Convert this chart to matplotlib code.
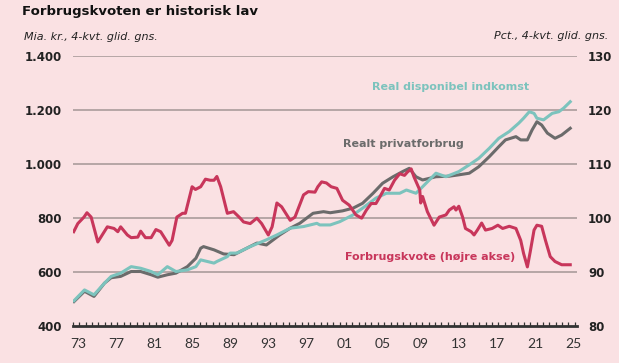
import matplotlib.pyplot as plt
import numpy as np

# Realt privatforbrug (mia. kr., venstre akse)
forbrug_aar = [1973.1, 1974.2, 1975.2, 1976.3, 1977.0, 1978.0, 1979.1, 1980.1, 1981.2, 1981.9,
               1982.9, 1983.8, 1985.0, 1985.9, 1986.4, 1986.7, 1987.8, 1988.8, 1989.9, 1990.9,
               1992.3, 1993.3, 1994.7, 1995.8, 1996.8, 1998.2, 1999.3, 2000.0, 2001.3, 2002.4,
               2003.4, 2004.5, 2005.5, 2006.6, 2007.6, 2008.3, 2009.0, 2009.7, 2011.1, 2012.5,
               2013.5, 2014.6, 2015.6, 2016.7, 2017.7, 2018.4, 2019.5, 2020.0, 2020.7, 2021.2,
               2021.7, 2022.2, 2022.8, 2023.6, 2024.3, 2025.2]
forbrug = [492, 530, 511, 560, 580, 585, 603, 603, 591, 582,
           591, 597, 621, 652, 689, 695, 683, 668, 665, 683,
           708, 701, 738, 763, 781, 818, 824, 820, 827, 837,
           855, 892, 929, 953, 972, 984, 953, 941, 953, 955,
           960, 966, 990, 1027, 1064, 1089, 1101, 1089, 1089, 1126,
           1156, 1144, 1114, 1095, 1107, 1132]

# Real disponibel indkomst (mia. kr., venstre akse)
indkomst_aar = [1973.1, 1974.2, 1975.2, 1976.3, 1977.0, 1978.0, 1979.1, 1980.1, 1981.2, 1981.9,
                1982.9, 1983.8, 1985.0, 1985.9, 1986.4, 1987.8, 1988.1, 1989.2, 1989.5, 1990.2,
                1991.6, 1993.3, 1994.4, 1995.8, 1997.2, 1998.6, 1998.9, 2000.0, 2001.0, 2002.4,
                2003.4, 2004.8, 2005.9, 2007.3, 2008.0, 2009.0, 2009.7, 2011.1, 2012.15, 2013.5,
                2014.6, 2015.6, 2016.7, 2017.7, 2018.8, 2019.8, 2020.3, 2020.9, 2021.4, 2021.7,
                2022.4, 2023.3, 2024.0, 2024.5, 2025.2]
indkomst = [495, 535, 517, 560, 585, 597, 621, 615, 603, 591,
            621, 603, 609, 621, 646, 634, 640, 658, 671, 671,
            695, 720, 738, 763, 769, 781, 775, 775, 787, 812,
            837, 874, 892, 892, 904, 892, 916, 966, 953, 972,
            997, 1021, 1058, 1095, 1120, 1151, 1169, 1193, 1187, 1169,
            1163, 1187, 1193, 1206, 1230]

# Forbrugskvote (pct., hoejre akse)
kvote_aar = [1973.07, 1973.5, 1974.15, 1974.46, 1974.9, 1975.6, 1976.6, 1977.3, 1977.7, 1978.0,
             1978.7, 1979.1, 1979.8, 1980.1, 1980.6, 1981.2, 1981.7, 1982.2, 1983.1, 1983.4,
             1983.9, 1984.5, 1984.8, 1985.5, 1985.85, 1986.4, 1986.9, 1987.4, 1987.8, 1988.1,
             1988.5, 1989.2, 1989.85, 1990.55, 1990.9, 1991.6, 1992.3, 1992.8, 1993.5, 1993.9,
             1994.4, 1994.9, 1995.8, 1996.3, 1997.2, 1997.7, 1998.4, 1998.7, 1999.1, 1999.6,
             2000.1, 2000.7, 2001.3, 2002.0, 2002.7, 2003.3, 2003.8, 2004.3, 2004.8, 2005.2,
             2005.7, 2006.2, 2006.75, 2007.3, 2007.8, 2008.1, 2008.5, 2008.8, 2009.4, 2009.5,
             2009.7, 2010.2, 2010.9, 2011.45, 2012.15, 2012.5, 2013.0, 2013.2, 2013.5, 2013.9,
             2014.2, 2014.8, 2015.1, 2015.45, 2015.9, 2016.3, 2017.0, 2017.6, 2018.1, 2018.8,
             2019.5, 2020.0, 2020.3, 2020.7, 2021.0, 2021.4, 2021.7, 2022.2, 2022.6, 2023.1,
             2023.6, 2024.3, 2025.2]
kvote = [97.5, 99.0, 100.2, 101.0, 100.2, 95.6, 98.4, 98.1, 97.5, 98.4,
         96.9, 96.4, 96.5, 97.6, 96.4, 96.4, 97.9, 97.5, 95.0, 95.9,
         100.2, 100.9, 100.9, 105.8, 105.3, 105.8, 107.2, 107.0, 107.0, 107.7,
         105.8, 100.9, 101.2, 100.0, 99.3, 99.0, 100.0, 99.0, 96.9, 98.4,
         102.8, 102.1, 99.6, 100.2, 104.3, 104.9, 104.8, 105.8, 106.7, 106.5,
         105.8, 105.5, 103.3, 102.4, 100.6, 100.0, 101.5, 102.7, 102.7, 103.9,
         105.5, 105.2, 107.0, 108.2, 107.9, 108.5, 109.1, 107.6, 105.2, 102.8,
         104.0, 101.2, 98.7, 100.2, 100.6, 101.5, 102.1, 101.5, 102.2, 100.2,
         98.1, 97.5, 96.9, 97.8, 99.1, 97.8, 98.1, 98.7, 98.1, 98.5,
         98.1, 95.9, 93.5, 91.0, 93.8, 97.8, 98.7, 98.5, 95.9, 92.9,
         92.0, 91.4, 91.4]

label_aar = list(range(1973, 2026, 4))
label_txt = ['%02d' % (a % 100) for a in label_aar]

bg = '#fae1e3'
red = '#c8365b'
teal = '#7cc3bd'
grey = '#6b6b6b'

fig = plt.figure(figsize=(6.19, 3.63), dpi=100, facecolor=bg)
ax = fig.add_axes([0.118, 0.1006, 0.814, 0.746], facecolor=bg)
ax2 = ax.twinx()

ax.set_xlim(1973, 2025.9)
ax.set_ylim(400, 1400)
ax2.set_ylim(80, 130)

for y in [600, 800, 1000, 1200, 1400]:
    ax.axhline(y, color='#a39696', lw=1.1, zorder=0)

ax.plot(indkomst_aar, indkomst, color=teal, lw=2.2, zorder=3)
ax.plot(forbrug_aar, forbrug, color=grey, lw=2.2, zorder=2)
ax2.plot(kvote_aar, kvote, color=red, lw=2.2)

for s in ['top', 'left', 'right']:
    ax.spines[s].set_visible(False)
    ax2.spines[s].set_visible(False)
ax2.spines['bottom'].set_visible(False)
ax.spines['bottom'].set_color('#333333')
ax.spines['bottom'].set_linewidth(2.0)

ax.set_yticks([400, 600, 800, 1000, 1200, 1400])
ax.set_yticklabels(['400', '600', '800', '1.000', '1.200', '1.400'])
ax2.set_yticks([80, 90, 100, 110, 120, 130])
ax.tick_params(axis='y', length=0, pad=8, labelsize=8.5, labelcolor='#222222')
ax2.tick_params(axis='y', length=0, pad=8, labelsize=8.5, labelcolor='#222222')
for t in ax.get_yticklabels() + ax2.get_yticklabels():
    t.set_fontweight('bold')

ax.set_xticks([a + 0.5 for a in label_aar])
ax.set_xticklabels(label_txt, fontfamily='Lato', fontsize=10, color='#333333')
ax.set_xticks(np.arange(1973, 2026, 2 / 3), minor=True)
ax.tick_params(axis='x', which='major', length=0, pad=8)
ax.tick_params(axis='x', which='minor', direction='in', length=3, width=0.9, color='#333333')

ax.text(2012.6, 1285, 'Real disponibel indkomst', color=teal, fontsize=8,
        fontweight='bold', ha='center', va='center')
ax.text(2007.7, 1074, 'Realt privatforbrug', color=grey, fontsize=8,
        fontweight='bold', ha='center', va='center')
ax.text(2010.5, 658, 'Forbrugskvote (højre akse)', color=red, fontsize=8,
        fontweight='bold', ha='center', va='center')

fig.text(22 / 619, 1 - 12 / 363, 'Forbrugskvoten er historisk lav', fontsize=9.5,
         fontweight='bold', va='center', ha='left', color='#111111')
fig.text(24 / 619, 1 - 37 / 363, 'Mia. kr., 4-kvt. glid. gns.', fontsize=8,
         style='italic', va='center', ha='left', color='#222222')
fig.text(608 / 619, 1 - 36 / 363, 'Pct., 4-kvt. glid. gns.', fontsize=8,
         style='italic', va='center', ha='right', color='#222222')

fig.savefig('out.png', dpi=100, facecolor=bg)
